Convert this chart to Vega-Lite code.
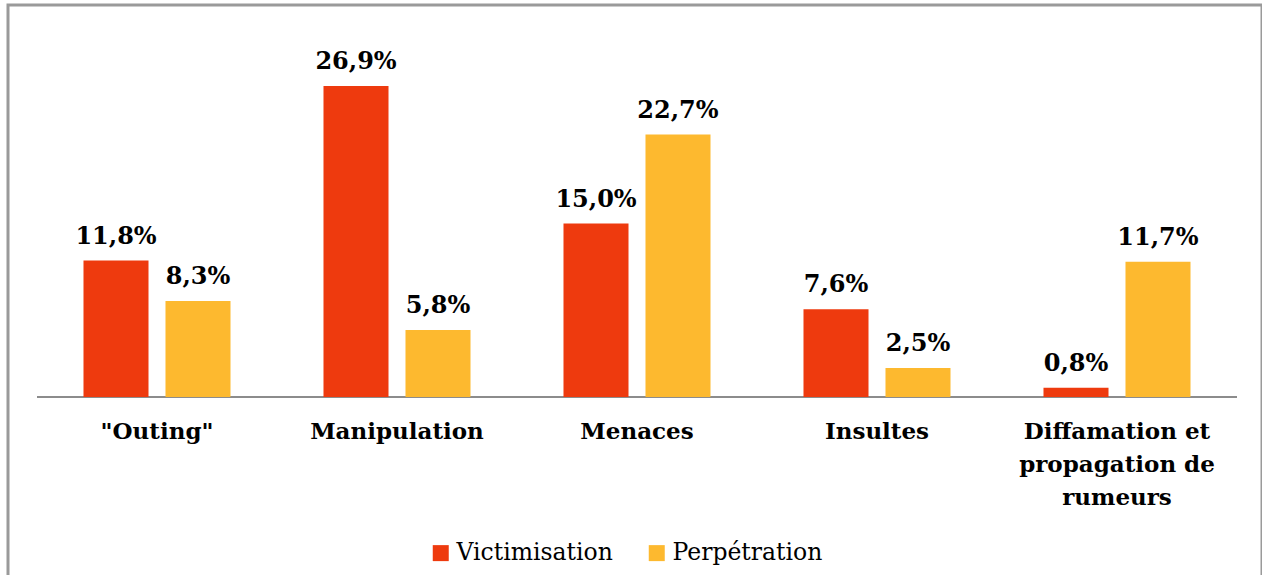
{
  "$schema": "https://vega.github.io/schema/vega-lite/v6.json",
  "autosize": "none",
  "width": 1254,
  "height": 590,
  "padding": {"left": 8, "top": 5, "right": 0, "bottom": 0},
  "background": "white",
  "config": {
    "locale": {"number": {"decimal": ",", "thousands": " ", "grouping": [3], "currency": ["", " €"]}},
    "view": {"stroke": "#9a9a9a", "strokeWidth": 3},
    "font": "DejaVu Serif"
  },
  "data": {
    "values": [
      {"category": "\"Outing\"", "series": "Victimisation", "value": 0.118},
      {"category": "\"Outing\"", "series": "Perpétration", "value": 0.083},
      {"category": "Manipulation", "series": "Victimisation", "value": 0.269},
      {"category": "Manipulation", "series": "Perpétration", "value": 0.058},
      {"category": "Menaces", "series": "Victimisation", "value": 0.150},
      {"category": "Menaces", "series": "Perpétration", "value": 0.227},
      {"category": "Insultes", "series": "Victimisation", "value": 0.076},
      {"category": "Insultes", "series": "Perpétration", "value": 0.025},
      {"category": "Diffamation et propagation de rumeurs", "series": "Victimisation", "value": 0.008},
      {"category": "Diffamation et propagation de rumeurs", "series": "Perpétration", "value": 0.117}
    ]
  },
  "encoding": {
    "x": {
      "field": "category",
      "type": "nominal",
      "sort": null,
      "scale": {"paddingInner": 0, "paddingOuter": 0.1125, "align": 0.537},
      "axis": {
        "title": null,
        "orient": "bottom",
        "offset": -198,
        "domain": false,
        "ticks": false,
        "labelAngle": 0,
        "labelPadding": 23,
        "labelFont": "DejaVu Serif",
        "labelFontWeight": "bold",
        "labelFontSize": 23,
        "labelColor": "#000000",
        "labelLimit": 0,
        "labelLineHeight": 33,
        "labelExpr": "datum.value == 'Diffamation et propagation de rumeurs' ? ['Diffamation et', 'propagation de', 'rumeurs'] : datum.label"
      }
    }
  },
  "layer": [
    {
      "mark": {"type": "bar", "color": "#8c8c8c"},
      "encoding": {
        "y": {"datum": 0.0009, "type": "quantitative", "scale": {"domain": [-0.17126, 0.33906], "nice": false, "zero": false}, "axis": null},
        "y2": {"datum": -0.0009}
      }
    },
    {
      "mark": {"type": "bar"},
      "encoding": {
        "xOffset": {
          "field": "series",
          "type": "nominal",
          "sort": ["Victimisation", "Perpétration"],
          "scale": {"paddingInner": 0.207, "paddingOuter": 0.567}
        },
        "y": {"field": "value", "type": "quantitative", "scale": {"domain": [-0.17126, 0.33906], "nice": false, "zero": false}, "axis": null},
        "y2": {"datum": 0},
        "color": {
          "field": "series",
          "type": "nominal",
          "sort": ["Victimisation", "Perpétration"],
          "scale": {"domain": ["Victimisation", "Perpétration"], "range": ["#EE3A0E", "#FDB92F"]},
          "legend": {
            "title": null,
            "orient": "none",
            "direction": "horizontal",
            "legendX": 421,
            "legendY": 536,
            "symbolType": "square",
            "symbolSize": 256,
            "symbolStrokeWidth": 0,
            "labelFont": "DejaVu Serif",
            "labelFontSize": 23.5,
            "labelColor": "#000000",
            "labelOffset": 4,
            "columnPadding": 32
          }
        }
      }
    },
    {
      "mark": {"type": "text", "baseline": "alphabetic", "dy": -17, "font": "DejaVu Serif", "fontWeight": "bold", "fontSize": 24, "color": "#000000"},
      "encoding": {
        "xOffset": {
          "field": "series",
          "type": "nominal",
          "sort": ["Victimisation", "Perpétration"],
          "scale": {"paddingInner": 0.207, "paddingOuter": 0.567}
        },
        "y": {"field": "value", "type": "quantitative", "scale": {"domain": [-0.17126, 0.33906], "nice": false, "zero": false}, "axis": null},
        "text": {"field": "value", "type": "quantitative", "format": ".1%"}
      }
    }
  ]
}
